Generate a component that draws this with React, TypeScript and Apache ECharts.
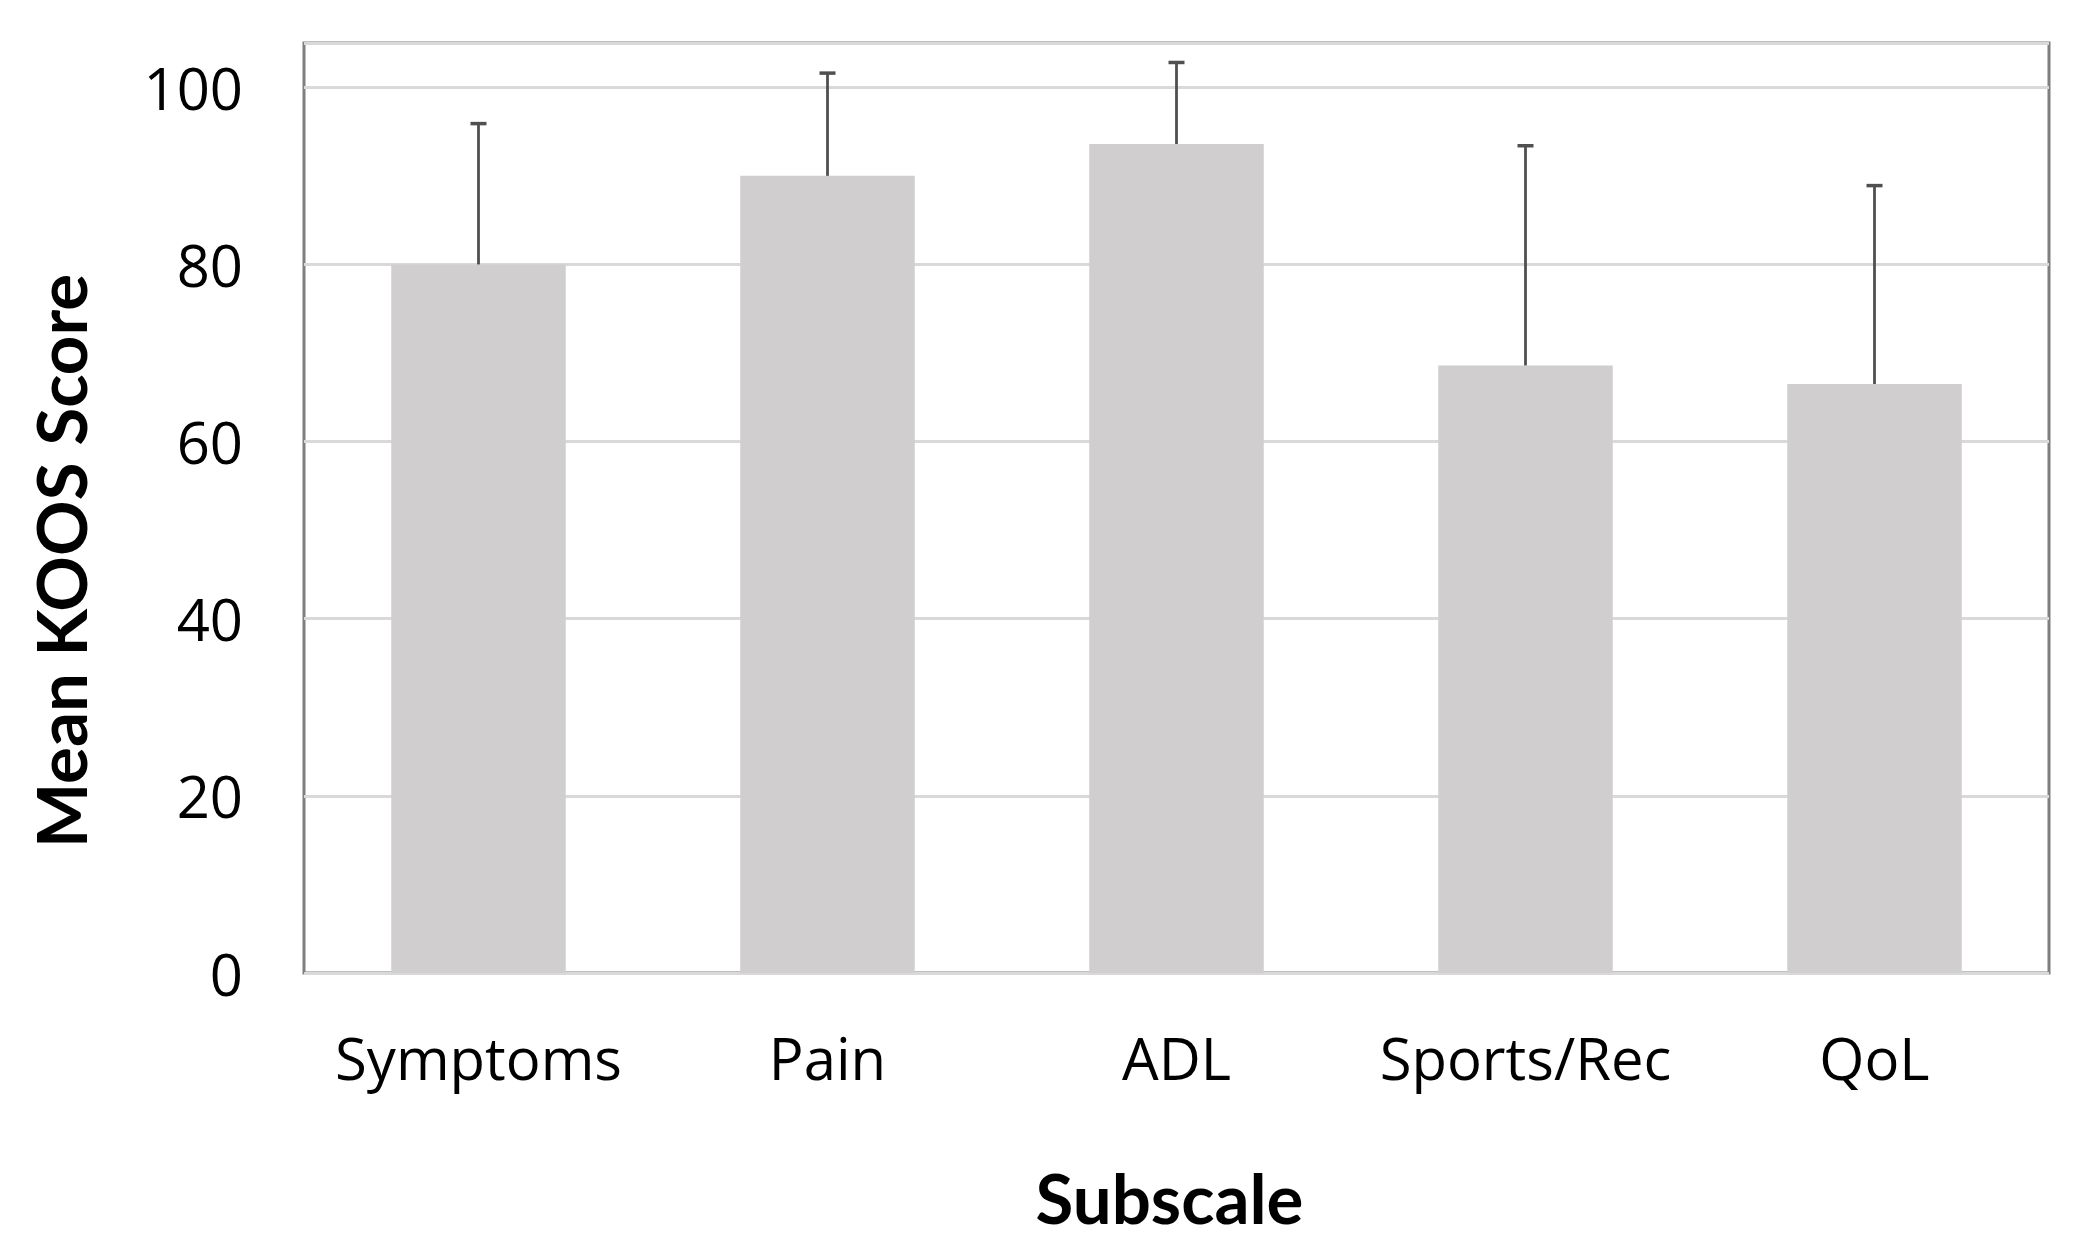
import React, { useEffect, useRef } from "react";
import * as echarts from "echarts";

const categories = ["Symptoms", "Pain", "ADL", "Sports/Rec", "QoL"];
const means = [80.0, 90.0, 93.6, 68.6, 66.5];
const upperErrors = [95.9, 101.6, 102.8, 93.4, 88.9];
const yTicks = [0, 20, 40, 60, 80, 100];

export default function App() {
  const ref = useRef<HTMLDivElement>(null);
  useEffect(() => {
    if (!ref.current) return;
    const chart = echarts.init(ref.current, null, { renderer: "svg" });
    const errData = categories.map((c, i) => [i, means[i], upperErrors[i]]);
    chart.setOption({
      animation: false,
      backgroundColor: "#ffffff",
      grid: {
        left: 304,
        right: 43,
        top: 43,
        bottom: 286,
        show: true,
        borderColor: "#7f7f7f",
        borderWidth: 3,
        containLabel: false,
      },
      xAxis: {
        type: "category",
        data: categories,
        axisLine: { show: false },
        axisTick: { show: false },
        axisLabel: {
          color: "#000",
          fontFamily: "Open Sans",
          fontSize: 58,
          margin: 55,
          interval: 0,
        },
        name: "Subscale",
        nameLocation: "middle",
        nameGap: 190,
        nameTextStyle: {
          color: "#000",
          fontFamily: "Lato",
          fontWeight: "bold",
          fontSize: 69,
          padding: [0, 14, 0, 0],
        },
      },
      yAxis: {
        type: "value",
        min: 0,
        max: 105,
        interval: 20,
        axisLine: { show: false },
        axisTick: { show: false },
        splitLine: { lineStyle: { color: "#d9d9d9", width: 3 } },
        axisLabel: {
          color: "#000",
          fontFamily: "Open Sans",
          fontSize: 58,
          margin: 61,
          formatter: (v: number) => (yTicks.includes(v) ? String(v) : ""),
        },
        name: "Mean KOOS Score",
        nameLocation: "middle",
        nameRotate: 90,
        nameGap: 209,
        nameTextStyle: {
          color: "#000",
          fontFamily: "Lato",
          fontWeight: "bold",
          fontSize: 69,
          padding: [0, 106, 0, 0],
        },
      },
      series: [
        {
          type: "bar",
          data: means,
          barCategoryGap: "50%",
          itemStyle: { color: "#d0cece" },
        },
        {
          type: "custom",
          data: errData,
          z: 5,
          renderItem: (params: any, api: any) => {
            const i = api.value(0);
            const base = api.coord([i, api.value(1)]);
            const top = api.coord([i, api.value(2)]);
            const half = 8;
            return {
              type: "group",
              children: [
                {
                  type: "line",
                  shape: { x1: base[0], y1: base[1], x2: top[0], y2: top[1] },
                  style: { stroke: "#505050", lineWidth: 2.8 },
                },
                {
                  type: "line",
                  shape: { x1: top[0] - half, y1: top[1], x2: top[0] + half, y2: top[1] },
                  style: { stroke: "#505050", lineWidth: 3.5 },
                },
              ],
            };
          },
        },
      ],
    });
    return () => chart.dispose();
  }, []);
  return (
    <div
      ref={ref}
      style={{ position: "fixed", left: 0, top: 0, width: "100vw", height: "100vh" }}
    />
  );
}
